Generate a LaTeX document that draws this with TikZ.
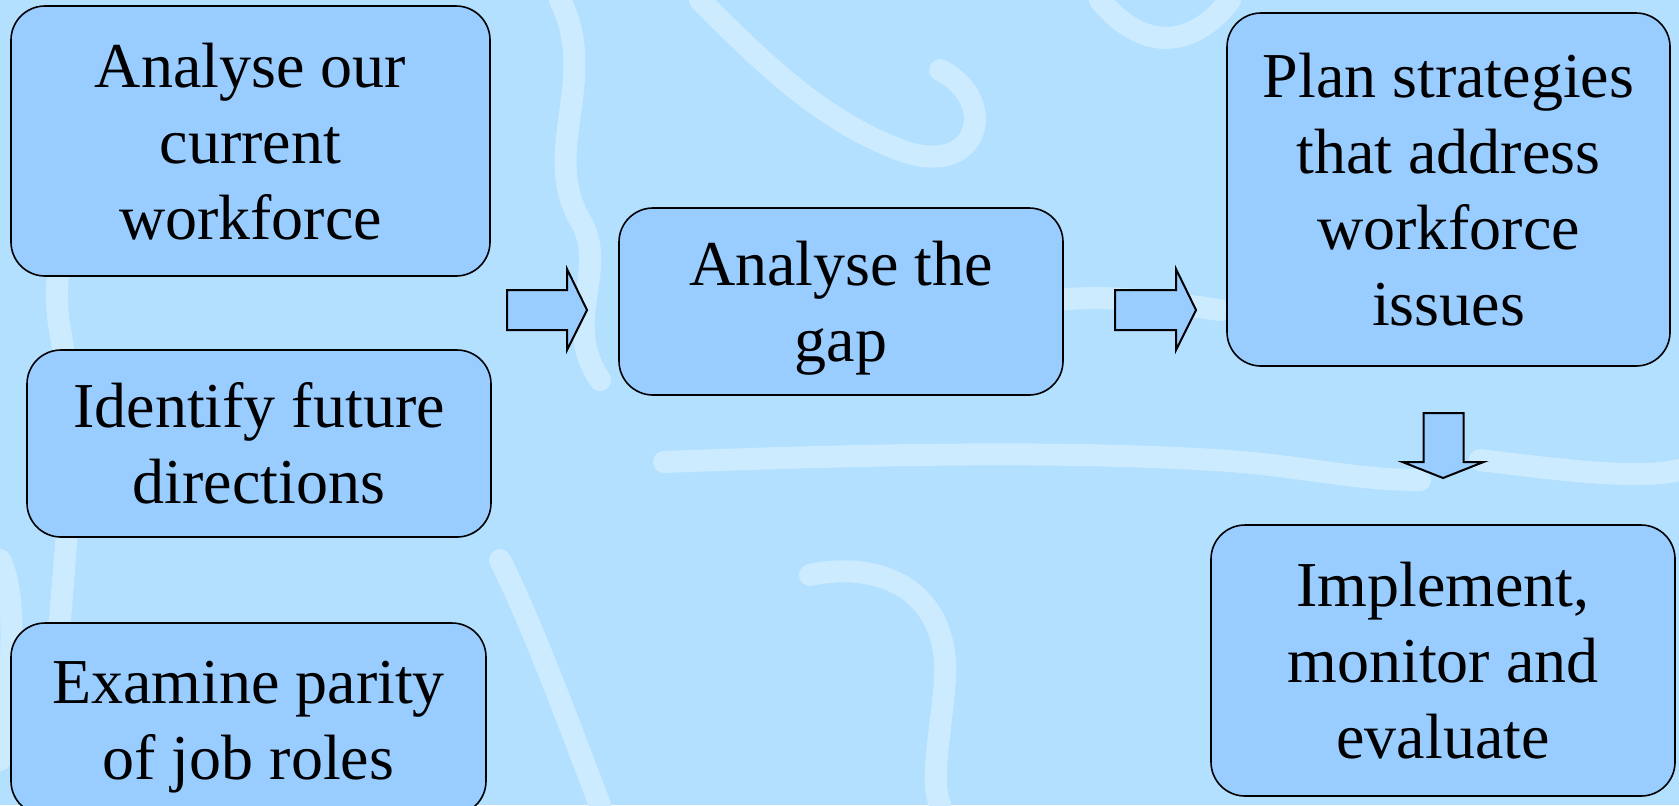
\documentclass[tikz,border=0pt]{standalone}
\usepackage{fontspec}
\setmainfont{Liberation Serif}
\definecolor{bgblue}{HTML}{B3E0FF}
\definecolor{swirl}{HTML}{CCEBFF}
\definecolor{boxblue}{HTML}{99CCFF}
\newcommand{\lnstrut}{\rule[-7.5pt]{0pt}{37pt}}
\begin{document}
\begin{tikzpicture}[x=0.5pt,y=-0.5pt,
  stepbox/.style={draw=black,line width=0.8pt,fill=boxblue,rounded corners=17pt,
    align=center,inner sep=0pt,font=\fontsize{32}{38}\selectfont},
  blockarrow/.style={draw=black,line width=1pt,fill=boxblue,line join=miter},
  swirlline/.style={draw=swirl,line width=11pt,line cap=round}]
\useasboundingbox (0,0) rectangle (1679,805);
\fill[bgblue] (0,0) rectangle (1679,805);
\begin{scope}
\clip (0,0) rectangle (1679,805);
% background swirls (decorative)
\draw[swirlline] (60,805) .. controls (40,650) and (90,500) .. (60,330) .. controls (40,220) and (120,120) .. (200,60);
\draw[swirlline] (560,0) .. controls (600,80) and (540,150) .. (580,220) .. controls (610,270) and (560,320) .. (600,380);
\draw[swirlline] (700,0) .. controls (760,60) and (820,120) .. (900,150) .. controls (980,180) and (1000,100) .. (940,70);
\draw[swirlline] (664,462) .. controls (850,455) and (1050,450) .. (1215,460) .. controls (1300,465) and (1350,480) .. (1420,480);
\draw[swirlline] (810,575) .. controls (880,560) and (950,590) .. (945,680) .. controls (940,740) and (930,780) .. (940,805);
\draw[swirlline] (1060,300) .. controls (1100,295) and (1150,300) .. (1220,310);
\draw[swirlline] (1480,460) .. controls (1560,470) and (1640,480) .. (1679,470);
\draw[swirlline] (0,560) .. controls (20,600) and (10,700) .. (0,760);
\draw[swirlline] (500,560) .. controls (530,620) and (560,700) .. (600,805);
\draw[swirlline] (1100,0) .. controls (1150,60) and (1200,40) .. (1230,0);
\end{scope}
% boxes
\node[stepbox,minimum width=239.5pt,minimum height=135pt] (cur) at (250.5,141) {Analyse our\lnstrut\\current\lnstrut\\workforce\lnstrut};
\node[stepbox,minimum width=232pt,minimum height=93.5pt] (fut) at (259,443.5) {Identify future\lnstrut\\directions\lnstrut};
\node[stepbox,minimum width=237.5pt,minimum height=96pt] (par) at (248.5,719) {Examine parity\lnstrut\\of job roles\lnstrut};
\node[stepbox,minimum width=222pt,minimum height=93.5pt] (gap) at (841,301.5) {Analyse the\lnstrut\\gap\lnstrut};
\node[stepbox,minimum width=221.5pt,minimum height=176.5pt] (plan) at (1448.5,189.5) {Plan strategies\lnstrut\\that address\lnstrut\\workforce\lnstrut\\issues\lnstrut};
\node[stepbox,minimum width=232pt,minimum height=135.5pt] (impl) at (1443,660.5) {Implement,\lnstrut\\monitor and\lnstrut\\evaluate\lnstrut};
% block arrows
\coordinate (a1) at (507,310);
\coordinate (a2) at (1115,310);
\coordinate (a3) at (1443.5,413);
\draw[blockarrow] (a1) ++(0,-20) -- ++(60,0) -- ++(0,-21) -- ++(20,41) -- ++(-20,40) -- ++(0,-20) -- ++(-60,0) -- cycle;
\draw[blockarrow] (a2) ++(0,-20) -- ++(61,0) -- ++(0,-21) -- ++(20,41) -- ++(-20,40) -- ++(0,-20) -- ++(-61,0) -- cycle;
\draw[blockarrow] (a3) ++(-20,0) -- ++(40,0) -- ++(0,49) -- ++(20,0) -- ++(-40.5,16) -- ++(-40.5,-16) -- ++(21,0) -- cycle;
\end{tikzpicture}
\end{document}
